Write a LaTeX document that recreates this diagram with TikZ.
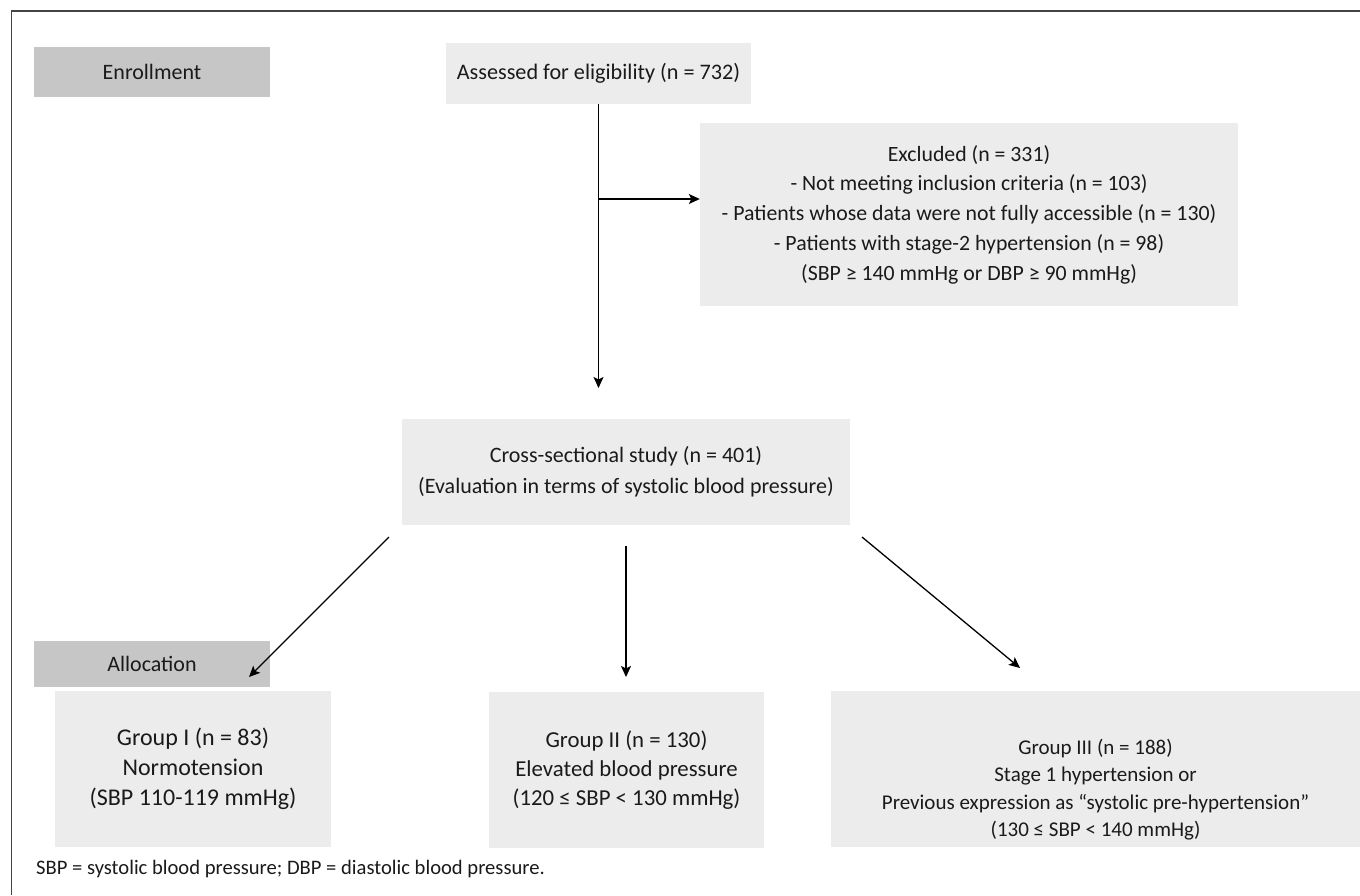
\documentclass[tikz,border=0pt]{standalone}
\usepackage{fontspec}
\setmainfont{Carlito}
\usetikzlibrary{arrows.meta}
\definecolor{lab}{HTML}{C6C6C6}
\definecolor{boxc}{HTML}{ECECEC}
\definecolor{txt}{HTML}{1A1A1A}
\definecolor{frm}{HTML}{444444}
\begin{document}
\begin{tikzpicture}[x=1pt,y=-1pt,
  lbl/.style={fill=lab, draw=none, minimum width=236pt, inner sep=0pt, text=txt, font=\fontsize{22}{30}\selectfont},
  bx/.style={fill=boxc, draw=none, text=txt, align=center, inner sep=0pt},
  tx/.style={text=txt, align=center, inner sep=0pt},
  arr/.style={draw=black, line width=1.3pt, -{Stealth[length=11pt,width=10pt,inset=2.5pt]}}]
\useasboundingbox (0,0) rectangle (1360,895);
\draw[frm, line width=1.5pt] (1360,11) -- (11.5,11) -- (11.5,895);

\node[lbl, minimum height=50pt] (enroll) at (152,72) {Enrollment};
\node[bx, minimum width=305pt, minimum height=61pt, font=\fontsize{22.2}{30}\selectfont] (assess) at (598.5,73.5) {Assessed for eligibility (n = 732)};
\node[bx, minimum width=538pt, minimum height=183pt, font=\fontsize{21.8}{29.8}\selectfont] (excl) at (969,214.5) {Excluded (n = 331)\\- Not meeting inclusion criteria (n = 103)\\- Patients whose data were not fully accessible (n = 130)\\- Patients with stage-2 hypertension (n = 98)\\(SBP ≥ 140 mmHg or DBP ≥ 90 mmHg)};
\node[bx, minimum width=448pt, minimum height=106pt, font=\fontsize{22}{31}\selectfont] (cross) at (626,472) {Cross-sectional study (n = 401)\\(Evaluation in terms of systolic blood pressure)};
\node[lbl, minimum height=46pt] (alloc) at (152,663.5) {Allocation};
\node[bx, minimum width=276pt, minimum height=156pt, font=\fontsize{24}{30}\selectfont] (g1) at (193,769) {Group I (n = 83)\\Normotension\\(SBP 110-119 mmHg)};
\node[bx, minimum width=275pt, minimum height=156pt, font=\fontsize{22.8}{29}\selectfont] (g2) at (626.5,770) {Group II (n = 130)\\Elevated blood pressure\\(120 ≤ SBP < 130 mmHg)};
\node[bx, minimum width=529pt, minimum height=156pt] (g3) at (1095.5,769) {};
\node[tx, font=\fontsize{21}{27.5}\selectfont] (g3t) at (1095.5,789.5) {Group III (n = 188)\\Stage 1 hypertension or\\Previous expression as “systolic pre-hypertension”\\(130 ≤ SBP < 140 mmHg)};
\node[anchor=west, text=txt, inner sep=0pt, font=\fontsize{20.6}{24}\selectfont] (fn) at (36,869) {SBP = systolic blood pressure; DBP = diastolic blood pressure.};

\coordinate (d1) at (598.5,388);
\coordinate (br) at (598.5,199);
\coordinate (l0) at (389,537);
\coordinate (l1) at (249,677);
\coordinate (m0) at (626,546);
\coordinate (m1) at (626,677);
\coordinate (r0) at (862,537);
\coordinate (r1) at (1020,668);

\draw[arr] (assess.south) -- (d1);
\draw[arr] (br) -- (br -| excl.west);
\draw[arr] (l0) -- (l1);
\draw[arr] (m0) -- (m1);
\draw[arr] (r0) -- (r1);
\end{tikzpicture}
\end{document}
